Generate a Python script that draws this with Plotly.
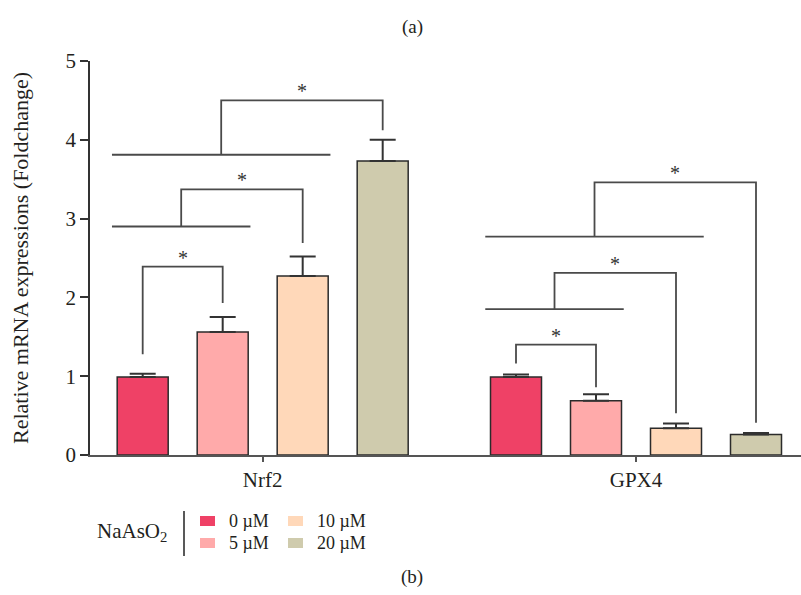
import plotly.graph_objects as go

# ---------------- data ----------------
groups = ["Nrf2", "GPX4"]
doses = ["0 µM", "5 µM", "10 µM", "20 µM"]
mean_0 = [0.99, 0.99]
mean_5 = [1.56, 0.69]
mean_10 = [2.27, 0.34]
mean_20 = [3.73, 0.26]
err_0 = [0.04, 0.03]
err_5 = [0.19, 0.08]
err_10 = [0.25, 0.06]
err_20 = [0.27, 0.02]
colors = ["#EF4166", "#FFAAAA", "#FFD8B9", "#CFCBAD"]
y_ticks = [0, 1, 2, 3, 4, 5]
y_title = "Relative mRNA expressions (Foldchange)"

# significance brackets, one value per group [Nrf2, GPX4]
b1_top = [2.39, 1.40]
b1_left = [1.28, 1.16]
b1_right = [1.93, 0.86]
b2_base = [2.90, 1.85]
b2_top = [3.37, 2.31]
b2_end = [2.69, 0.53]
b3_base = [3.81, 2.77]
b3_top = [4.50, 3.46]
b3_end = [4.12, 0.41]
star = "*"

# ---------------- geometry ----------------
W, H = 801, 595
ML, MR, MT, MB = 90, 0, 61, 140
PW, PH = W - ML - MR, H - MT - MB
BARGAP = 0.1428
GROUPGAP = 0.3625
XRANGE = [-0.4626, 1.442]
FONT = "Liberation Serif"
TXT_C = "#231F20"
LINE_C = "#4a4a4a"


def px(xp):
    return (xp - ML) / PW


def py(yp):
    return (H - MB - yp) / PH


means = [mean_0, mean_5, mean_10, mean_20]
errs = [err_0, err_5, err_10, err_20]

fig = go.Figure()
for i in range(4):
    fig.add_trace(go.Bar(
        x=list(range(len(groups))), y=means[i], name=doses[i],
        marker=dict(color=colors[i], line=dict(color="#2b2b2b", width=1.5)),
        error_y=dict(type="data", symmetric=False, array=errs[i],
                     arrayminus=[0] * len(groups), color="#333333",
                     thickness=2, width=13),
        showlegend=False, hoverinfo="skip",
    ))

slot = (1 - BARGAP) / 4
half = slot * (1 - GROUPGAP) / 2


def cx(g, i):
    return g + (i - 1.5) * slot


annotations = []
for g in range(len(groups)):
    c0, c1, c2, c3 = (cx(g, i) for i in range(4))
    # bracket 1: 0 vs 5
    xs = [c0, c0, c1, c1]
    ys = [b1_left[g], b1_top[g], b1_top[g], b1_right[g]]
    annotations.append(((c0 + c1) / 2, b1_top[g]))
    # bracket 2: (0,5) vs 10
    l2, r2 = c0 - half - 0.014, c1 + half + 0.006
    m2 = (l2 + r2) / 2
    xs += [None, l2, r2, None, m2, m2, c2, c2]
    ys += [None, b2_base[g], b2_base[g], None, b2_base[g], b2_top[g], b2_top[g], b2_end[g]]
    annotations.append(((m2 + c2) / 2, b2_top[g]))
    # bracket 3: (0,5,10) vs 20
    l3, r3 = c0 - half - 0.014, c2 + half + 0.006
    m3 = (l3 + r3) / 2
    xs += [None, l3, r3, None, m3, m3, c3, c3]
    ys += [None, b3_base[g], b3_base[g], None, b3_base[g], b3_top[g], b3_top[g], b3_end[g]]
    annotations.append(((m3 + c3) / 2, b3_top[g]))
    fig.add_trace(go.Scatter(
        x=xs, y=ys, mode="lines", line=dict(color=LINE_C, width=1.8),
        showlegend=False, hoverinfo="skip", cliponaxis=False,
    ))

for (ax_, ay_) in annotations:
    fig.add_annotation(x=ax_, y=ay_, xref="x", yref="y", text=star,
                       showarrow=False, yanchor="bottom", yshift=-4,
                       font=dict(family=FONT, size=20, color="#333333"))

# y-axis title
fig.add_annotation(x=px(20), y=py(258), xref="paper", yref="paper",
                   text=y_title, textangle=-90, showarrow=False,
                   xanchor="center", yanchor="middle",
                   font=dict(family=FONT, size=22, color=TXT_C))

# panel labels
fig.add_annotation(x=px(412), y=py(27), xref="paper", yref="paper", text="(a)",
                   showarrow=False, xanchor="center", yanchor="middle",
                   font=dict(family=FONT, size=19, color=TXT_C))
fig.add_annotation(x=px(412), y=py(577), xref="paper", yref="paper", text="(b)",
                   showarrow=False, xanchor="center", yanchor="middle",
                   font=dict(family=FONT, size=19, color=TXT_C))

# legend (drawn manually: title, separator, swatches, labels)
fig.add_annotation(x=px(169), y=py(532), xref="paper", yref="paper",
                   text="NaAsO<sub>2</sub>", showarrow=False,
                   xanchor="right", yanchor="middle",
                   font=dict(family=FONT, size=21, color=TXT_C))
fig.add_shape(type="line", xref="paper", yref="paper",
              x0=px(184), x1=px(184), y0=py(511), y1=py(556),
              line=dict(color="#222222", width=1.5))
leg_x = [200, 200, 288, 288]
leg_y = [521, 543, 521, 543]
for i in range(4):
    fig.add_shape(type="rect", xref="paper", yref="paper",
                  x0=px(leg_x[i]), x1=px(leg_x[i] + 15),
                  y0=py(leg_y[i] - 5), y1=py(leg_y[i] + 5),
                  fillcolor=colors[i], line=dict(width=0))
    fig.add_annotation(x=px(leg_x[i] + 28), y=py(leg_y[i]), xref="paper", yref="paper",
                       text=doses[i], showarrow=False, xanchor="left", yanchor="middle",
                       borderpad=0,
                       font=dict(family=FONT, size=18, color=TXT_C))

axis_font = dict(family=FONT, size=21, color=TXT_C)
fig.update_layout(
    width=W, height=H,
    margin=dict(l=ML, r=MR, t=MT, b=MB, autoexpand=False),
    paper_bgcolor="white", plot_bgcolor="white",
    barmode="group", bargap=BARGAP, bargroupgap=GROUPGAP,
    font=dict(family=FONT, color=TXT_C),
    showlegend=False,
    xaxis=dict(range=XRANGE, tickmode="array", tickvals=list(range(len(groups))),
               ticktext=groups, showline=True, linecolor="#555555", linewidth=2,
               ticks="outside", ticklen=5, tickwidth=1.5, tickcolor="#555555",
               showgrid=False, zeroline=False, tickfont=axis_font, fixedrange=True),
    yaxis=dict(range=[0, 5], tickmode="array", tickvals=y_ticks,
               showline=True, linecolor="#333333", linewidth=1.5,
               ticks="outside", ticklen=8, tickwidth=1.5, tickcolor="#333333",
               showgrid=False, zeroline=False, tickfont=axis_font,
               fixedrange=True),
)

fig.write_html("out.html")
